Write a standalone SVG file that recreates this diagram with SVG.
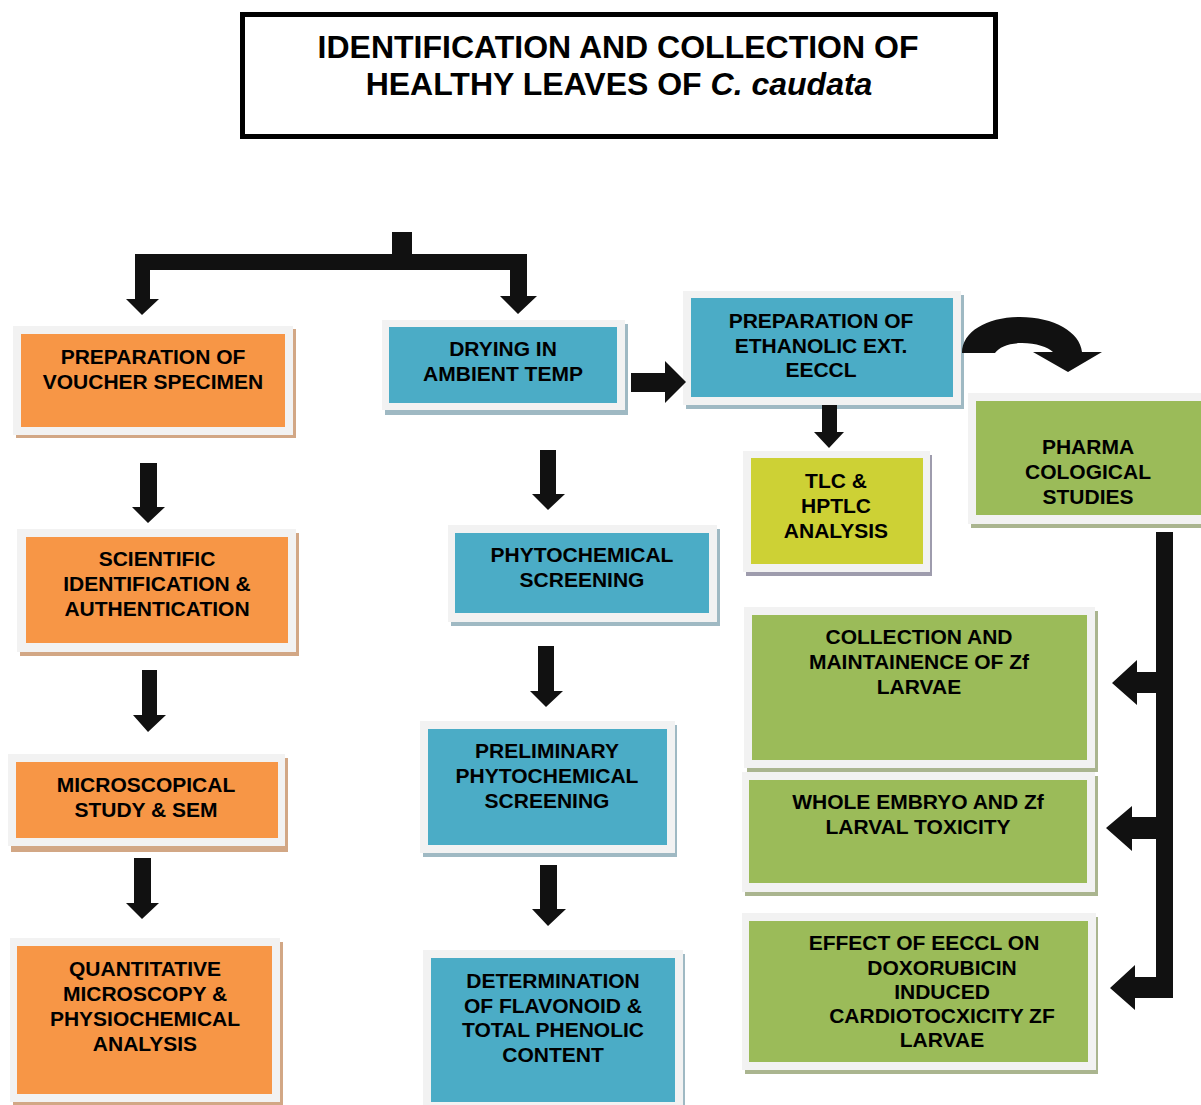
<svg xmlns="http://www.w3.org/2000/svg" width="1201" height="1105" viewBox="0 0 1201 1105">
<style>
text{font-family:"Liberation Sans",Arial,sans-serif;font-weight:bold;fill:#000;text-anchor:middle}
.t{font-size:21px}
.title{font-size:32px}
.frame{fill:#f2f2f2}
.o{fill:#f79646}.os{fill:#d2a785}
.b{fill:#4bacc6}.bs{fill:#9fb9c3}
.g{fill:#9bbb59}.gs{fill:#aab58f}
.y{fill:#cdd135}.ys{fill:#9e9cad}
.arr{fill:#111}
</style>
<rect width="1201" height="1105" fill="#fff"/>

<g id="title">
<rect x="242.5" y="14.5" width="753" height="122" fill="#fff" stroke="#000" stroke-width="5"/>
<text class="title" x="618" y="58">IDENTIFICATION AND COLLECTION OF</text>
<text class="title" x="619" y="95">HEALTHY LEAVES OF <tspan font-style="italic">C. caudata</tspan></text>
</g>

<g id="voucher">
<rect class="os" x="16" y="329" width="280" height="109"/>
<rect class="frame" x="13" y="326" width="280" height="109"/>
<rect class="o" x="21" y="334" width="264" height="93"/>
<text class="t" x="153" y="364">PREPARATION OF</text>
<text class="t" x="153" y="389">VOUCHER SPECIMEN</text>
</g>

<g id="scientific">
<rect class="os" x="20" y="533" width="279" height="123"/>
<rect class="frame" x="17" y="529" width="279" height="123"/>
<rect class="o" x="26" y="537" width="262" height="106"/>
<text class="t" x="157" y="566">SCIENTIFIC</text>
<text class="t" x="157" y="591">IDENTIFICATION &amp;</text>
<text class="t" x="157" y="616">AUTHENTICATION</text>
</g>

<g id="microscopical">
<rect class="os" x="11" y="758" width="277" height="94"/>
<rect class="frame" x="8" y="754" width="277" height="92"/>
<rect class="o" x="16" y="762" width="262" height="76"/>
<text class="t" x="146" y="792">MICROSCOPICAL</text>
<text class="t" x="146" y="817">STUDY &amp; SEM</text>
</g>

<g id="quantitative">
<rect class="os" x="13" y="942" width="270" height="164"/>
<rect class="frame" x="10" y="938" width="270" height="164"/>
<rect class="o" x="17" y="946" width="255" height="148"/>
<text class="t" x="145" y="976">QUANTITATIVE</text>
<text class="t" x="145" y="1001">MICROSCOPY &amp;</text>
<text class="t" x="145" y="1026">PHYSIOCHEMICAL</text>
<text class="t" x="145" y="1051">ANALYSIS</text>
</g>

<g id="drying">
<rect class="bs" x="385" y="324" width="243" height="91"/>
<rect class="frame" x="382" y="320" width="243" height="90"/>
<rect class="b" x="389" y="327" width="228" height="76"/>
<text class="t" x="503" y="356">DRYING IN</text>
<text class="t" x="503" y="381">AMBIENT TEMP</text>
</g>

<g id="phytochemical">
<rect class="bs" x="451" y="529" width="269" height="97"/>
<rect class="frame" x="448" y="525" width="269" height="97"/>
<rect class="b" x="455" y="533" width="254" height="80"/>
<text class="t" x="582" y="562">PHYTOCHEMICAL</text>
<text class="t" x="582" y="587">SCREENING</text>
</g>

<g id="preliminary">
<rect class="bs" x="423" y="725" width="254" height="132"/>
<rect class="frame" x="420" y="721" width="255" height="132"/>
<rect class="b" x="428" y="729" width="239" height="116"/>
<text class="t" x="547" y="758">PRELIMINARY</text>
<text class="t" x="547" y="783">PHYTOCHEMICAL</text>
<text class="t" x="547" y="808">SCREENING</text>
</g>

<g id="determination">
<rect class="bs" x="426" y="954" width="259" height="160"/>
<rect class="frame" x="423" y="950" width="260" height="160"/>
<rect class="b" x="431" y="958" width="244" height="144"/>
<text class="t" x="553" y="988">DETERMINATION</text>
<text class="t" x="553" y="1013">OF FLAVONOID &amp;</text>
<text class="t" x="553" y="1037">TOTAL PHENOLIC</text>
<text class="t" x="553" y="1062">CONTENT</text>
</g>

<g id="eeccl">
<rect class="bs" x="686" y="295" width="278" height="114"/>
<rect class="frame" x="683" y="291" width="278" height="114"/>
<rect class="b" x="691" y="298" width="262" height="99"/>
<text class="t" x="821" y="328">PREPARATION OF</text>
<text class="t" x="821" y="353">ETHANOLIC EXT.</text>
<text class="t" x="821" y="377">EECCL</text>
</g>

<g id="tlc">
<rect class="ys" x="746" y="455" width="186" height="121"/>
<rect class="frame" x="743" y="451" width="187" height="121"/>
<rect class="y" x="751" y="458" width="172" height="106"/>
<text class="t" x="836" y="488">TLC &amp;</text>
<text class="t" x="836" y="513">HPTLC</text>
<text class="t" x="836" y="538">ANALYSIS</text>
</g>

<g id="pharma">
<rect class="gs" x="971" y="397" width="240" height="131"/>
<rect class="frame" x="968" y="393" width="240" height="131"/>
<rect class="g" x="976" y="401" width="230" height="114"/>
<text class="t" x="1088" y="454">PHARMA</text>
<text class="t" x="1088" y="479">COLOGICAL</text>
<text class="t" x="1088" y="504">STUDIES</text>
</g>

<g id="collection">
<rect class="gs" x="747" y="611" width="351" height="161"/>
<rect class="frame" x="744" y="607" width="351" height="161"/>
<rect class="g" x="752" y="615" width="335" height="145"/>
<text class="t" x="919" y="644">COLLECTION AND</text>
<text class="t" x="919" y="669">MAINTAINENCE OF Zf</text>
<text class="t" x="919" y="694">LARVAE</text>
</g>

<g id="toxicity">
<rect class="gs" x="745" y="776" width="353" height="120"/>
<rect class="frame" x="742" y="772" width="353" height="120"/>
<rect class="g" x="749" y="780" width="338" height="103"/>
<text class="t" x="918" y="809">WHOLE EMBRYO AND Zf</text>
<text class="t" x="918" y="834">LARVAL TOXICITY</text>
</g>

<g id="effect">
<rect class="gs" x="745" y="917" width="353" height="157"/>
<rect class="frame" x="742" y="913" width="354" height="157"/>
<rect class="g" x="749" y="921" width="339" height="141"/>
<text class="t" x="924" y="950">EFFECT OF EECCL ON</text>
<text class="t" x="942" y="975">DOXORUBICIN</text>
<text class="t" x="942" y="999">INDUCED</text>
<text class="t" x="942" y="1023">CARDIOTOCXICITY ZF</text>
<text class="t" x="942" y="1047">LARVAE</text>
</g>

<g id="connectors" class="arr">
<rect x="392" y="232" width="20" height="22"/>
<rect x="147" y="254" width="380" height="16"/>
<polygon points="135,254 150,254 150,299 159,299 142,315 126,299 135,299"/>
<polygon points="510,270 527,270 527,296 537,296 518,314 500,296 510,296"/>
<polygon points="140,463 157,463 157,507 165,507 148,523 132,507 140,507"/>
<polygon points="142,670 157,670 157,715 166,715 148,732 133,715 142,715"/>
<polygon points="134,858 151,858 151,903 159,903 142,919 126,903 134,903"/>
<polygon points="540,450 556,450 556,494 565,494 548,510 532,494 540,494"/>
<polygon points="538,646 554,646 554,691 563,691 546,707 530,691 538,691"/>
<polygon points="540,865 557,865 557,909 566,909 548,926 532,909 540,909"/>
<polygon points="631,373 665,373 665,361 686,382 665,403 665,392 631,392"/>
<polygon points="822,405 837,405 837,432 844,432 829,448 814,432 822,432"/>
<path d="M962,353 C962,331 988,317 1020,317 C1054,317 1080,332 1082,352 L1102,352 L1068,372 L1033,352 L1053,352 C1048,347 1036,343 1022,343 C1009,343 999,347 995,353 Z"/>
<rect x="1156" y="532" width="17" height="466"/>
<polygon points="1173,672 1137,672 1137,660 1112,683 1137,705 1137,693 1173,693"/>
<polygon points="1167,817 1132,817 1132,806 1106,828 1132,851 1132,839 1167,839"/>
<polygon points="1173,977 1135,977 1135,965 1110,988 1135,1010 1135,998 1173,998"/>
</g>
</svg>
